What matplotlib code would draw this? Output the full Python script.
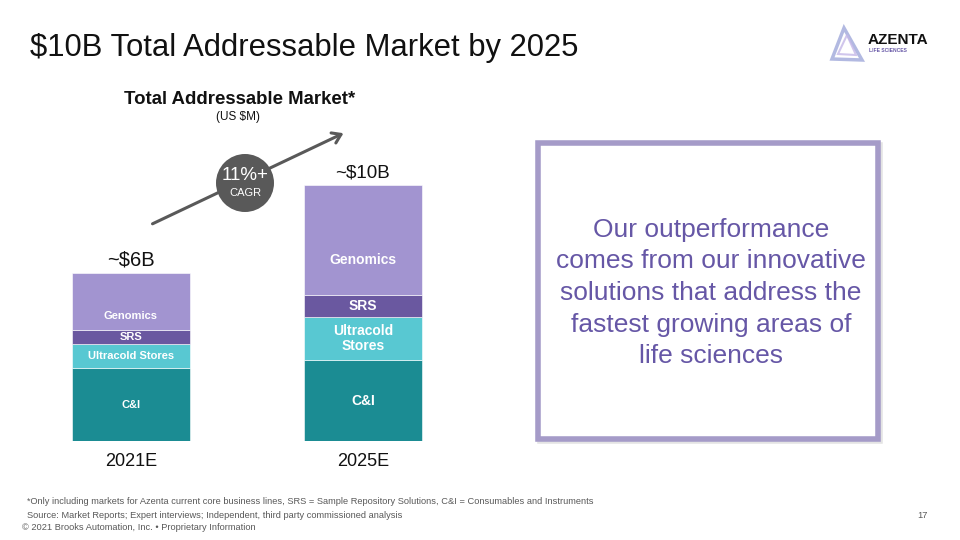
import matplotlib.pyplot as plt
from matplotlib.patches import Rectangle, Circle, Polygon, FancyArrowPatch

# Data (US $M)
years = ["2021E", "2025E"]
segments = ["C&I", "Ultracold Stores", "SRS", "Genomics"]
values = {
    "C&I": [2850, 3160],
    "Ultracold Stores": [950, 1690],
    "SRS": [520, 850],
    "Genomics": [2230, 4300],
}
totals_text = ["~$6B", "~$10B"]
seg_labels_2025 = {"Ultracold Stores": "Ultracold\nStores"}

colors = {
    "C&I": "#1B8C93",
    "Ultracold Stores": "#58C8D2",
    "SRS": "#6A58A0",
    "Genomics": "#A294D0",
}

W, H = 960, 540
FONT = "Liberation Sans"


def px(x, y):
    # pixel coords (top-left origin) -> figure fraction
    return x / W, 1 - y / H


def main():
    fig = plt.figure(figsize=(9.6, 5.4), dpi=100)
    fig.patch.set_facecolor("white")

    # Title
    fig.text(*px(30, 48), "$10B Total Addressable Market by 2025", fontsize=22.3,
             family=FONT, color="#111111", va="center", ha="left")

    # Logo
    lx, ly = 846, 44
    tri = Polygon([px(lx - 14, ly + 15), px(lx + 16, ly + 16), px(lx - 2, ly - 16)],
                  closed=True, transform=fig.transFigure, fill=False,
                  edgecolor="#9FA8DA", linewidth=2.5, alpha=0.8)
    fig.add_artist(tri)
    tri2 = Polygon([px(lx - 8, ly + 10), px(lx + 10, ly + 11), px(lx + 1, ly - 9)],
                   closed=True, transform=fig.transFigure, fill=False,
                   edgecolor="#C5B8E8", linewidth=1.5, alpha=0.8)
    fig.add_artist(tri2)
    fig.text(*px(868, 40), "AZENTA", fontsize=11, fontweight="bold", family=FONT,
             color="#111111", va="center", ha="left")
    fig.text(*px(869, 50), "LIFE SCIENCES", fontsize=3.6, fontweight="bold", family=FONT,
             color="#6657A6", va="center", ha="left")

    # Chart heading
    fig.text(*px(240, 100), "Total Addressable Market*", fontsize=13.4, fontweight="bold",
             family=FONT, color="#111111", va="center", ha="center")
    fig.text(*px(238, 117), "(US $M)", fontsize=8.5, family=FONT, color="#111111",
             va="center", ha="center")

    # Bars axes: bottom at y=441px, bar centres at x=131 / 363 px
    left, bottom = px(15, 441)
    ax = fig.add_axes([left, bottom, 464 / W, 341 / H])
    ax.set_xlim(-0.5, 1.5)
    ax.set_ylim(0, 10000 * 341 / 256)
    ax.axis("off")

    xs = range(len(years))
    base = [0, 0]
    for seg in segments:
        vals = values[seg]
        ax.bar(xs, vals, bottom=base, width=0.505, color=colors[seg],
               edgecolor="white", linewidth=0.4)
        for i, v in enumerate(vals):
            if seg == "Genomics":
                yc = base[i] + v * (0.25 if i == 0 else 0.32)
            else:
                yc = base[i] + v / 2
            label = seg_labels_2025.get(seg, seg) if i == 1 else seg
            size = 8 if i == 0 else 10
            ax.text(i, yc, label, ha="center", va="center", color="white",
                    fontsize=size, fontweight="bold", family=FONT, linespacing=1.1)
        base = [b + v for b, v in zip(base, vals)]

    for i, t in enumerate(totals_text):
        ax.text(i, base[i] + 150, t, ha="center", va="bottom",
                fontsize=14.5 if i == 0 else 13.5, family=FONT, color="#111111")

    for i, yr in enumerate(years):
        fig.text(*px(131 + 232 * i, 461), yr, fontsize=13, family=FONT,
                 color="#111111", ha="center", va="center")

    # CAGR arrow and bubble
    arrow = FancyArrowPatch(px(150, 225), px(346, 132), transform=fig.transFigure,
                            arrowstyle="->,head_length=6,head_width=4",
                            color="#595959", linewidth=2.2)
    fig.add_artist(arrow)
    circ = Circle((245, H - 183), 29, transform=None, facecolor="#595959",
                  edgecolor="none")
    fig.add_artist(circ)
    fig.text(*px(245, 175), "11%+", fontsize=13.5, family=FONT, color="white",
             ha="center", va="center")
    fig.text(*px(245, 193), "CAGR", fontsize=8, family=FONT, color="white",
             ha="center", va="center")

    # Right box
    shadow = Rectangle(px(540, 441), 340 / W, 296 / H, transform=fig.transFigure,
                       facecolor="none", edgecolor="#E4E4E4", linewidth=4)
    fig.add_artist(shadow)
    box = Rectangle(px(538, 439), 340 / W, 296 / H, transform=fig.transFigure,
                    facecolor="white", edgecolor="#A59BC8", linewidth=4)
    fig.add_artist(box)
    fig.text(*px(711, 293), "Our outperformance\ncomes from our innovative\n"
             "solutions that address the\nfastest growing areas of\nlife sciences",
             fontsize=19, family=FONT, color="#6657A6", ha="center", va="center",
             linespacing=1.4)

    # Footnotes
    fig.text(*px(27, 502), "*Only including markets for Azenta current core business lines, "
             "SRS = Sample Repository Solutions, C&I = Consumables and Instruments",
             fontsize=6.7, family=FONT, color="#595959", ha="left", va="center")
    fig.text(*px(27, 515), "Source: Market Reports; Expert interviews; Independent, "
             "third party commissioned analysis",
             fontsize=6.7, family=FONT, color="#595959", ha="left", va="center")
    fig.text(*px(22, 528), "\u00a9 2021 Brooks Automation, Inc. \u2022 Proprietary Information",
             fontsize=6.7, family=FONT, color="#595959", ha="left", va="center")
    fig.text(*px(928, 515), "17", fontsize=6.7, family=FONT, color="#595959",
             ha="right", va="center")

    fig.savefig("out.png", dpi=100)


if __name__ == "__main__":
    main()
